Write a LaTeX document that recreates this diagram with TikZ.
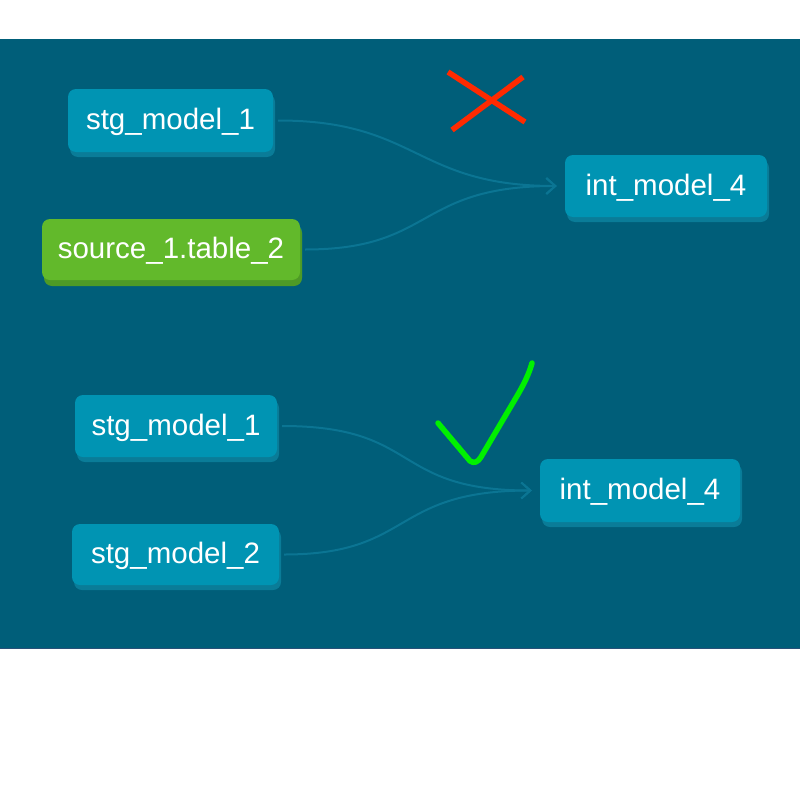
\documentclass[tikz,border=0pt]{standalone}
\usepackage{fontspec}
\setmainfont{Liberation Sans}
\usetikzlibrary{arrows.meta,shadows}
\definecolor{bgcol}{HTML}{005E79}
\definecolor{nodecol}{HTML}{0094B3}
\definecolor{shadowcol}{HTML}{0A7C98}
\definecolor{srccol}{HTML}{62B92B}
\definecolor{srcshadow}{HTML}{4E9A26}
\definecolor{edgecol}{HTML}{0B7593}
\definecolor{xred}{HTML}{FF2A00}
\definecolor{okgreen}{HTML}{00F000}
\tikzset{
  model/.style={fill=nodecol, rounded corners=8pt, text=white,
    font=\fontsize{29.5}{31}\selectfont, inner sep=0pt,
    text height=22pt, text depth=4pt,
    general shadow={shadow xshift=2pt, shadow yshift=-5pt, fill=shadowcol, rounded corners=8pt}},
  srcnode/.style={model, fill=srccol,
    general shadow={shadow xshift=2pt, shadow yshift=-6pt, fill=srcshadow, rounded corners=8pt}},
  flow/.style={draw=edgecol, line width=2pt, shorten >=8pt,
    -{Straight Barb[length=9pt,width=16pt,line width=2pt]}},
  penstroke/.style={line width=5.5pt}
}
\begin{document}
\begin{tikzpicture}[x=1pt,y=-1pt]
\useasboundingbox (0,0) rectangle (800,800);
\fill[white] (0,0) rectangle (800,800);
\fill[bgcol] (0,39) rectangle (800,648);
\draw[color={rgb,255:red,40;green,80;blue,120}, line width=1pt] (0,648.5) -- (800,648.5);

% top group
\node[model, minimum width=205pt, minimum height=63pt] (s1) at (170.5,120.5) {stg\_model\_1};
\node[srcnode, minimum width=258pt, minimum height=61pt] (t2) at (171,249.5) {source\_1.table\_2};
\node[model, minimum width=202pt, minimum height=62pt] (i1) at (666,186) {int\_model\_4};
\draw[flow] ([xshift=5pt]s1.east) .. controls +(140,0) and +(-150,0) .. (i1.west);
\draw[flow] ([xshift=5pt]t2.east) .. controls +(130,0) and +(-150,0) .. (i1.west);

% red cross
\coordinate (xa) at (448,72);
\coordinate (xb) at (525,122);
\coordinate (xc) at (452,130);
\coordinate (xd) at (523,77);
\draw[penstroke, xred] (xa) -- (xb);
\draw[penstroke, xred] (xc) -- (xd);

% bottom group
\node[model, minimum width=202pt, minimum height=62pt] (s2) at (176,426) {stg\_model\_1};
\node[model, minimum width=207pt, minimum height=61pt] (s3) at (175.5,554.5) {stg\_model\_2};
\node[model, minimum width=200pt, minimum height=63pt] (i2) at (640,490.5) {int\_model\_4};
\draw[flow] ([xshift=5pt]s2.east) .. controls +(140,0) and +(-150,0) .. (i2.west);
\draw[flow] ([xshift=5pt]s3.east) .. controls +(130,0) and +(-150,0) .. (i2.west);

% green check
\coordinate (ca) at (438,423);
\coordinate (cb) at (470,461);
\coordinate (cc) at (532,363);
\draw[penstroke, okgreen, line cap=round, line join=round] (ca) -- (cb) .. controls (474,464) and (478,462) .. (481,457) -- (517,396) .. controls (524,384) and (529,374) .. (cc);
\end{tikzpicture}
\end{document}
